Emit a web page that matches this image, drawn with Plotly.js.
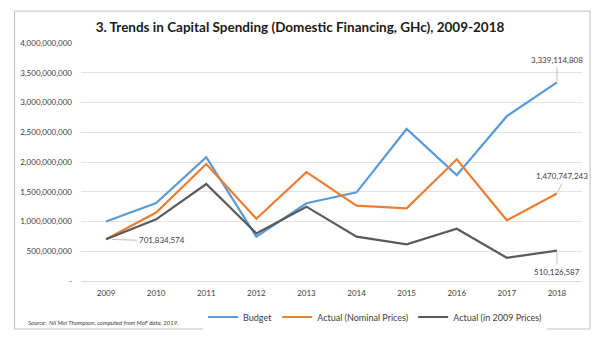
<!DOCTYPE html>
<html>
<head>
<meta charset="utf-8">
<script src="https://cdn.plot.ly/plotly-3.0.1.min.js"></script>
<style>
html,body{margin:0;padding:0;background:#fff;}
#chart{width:600px;height:337px;}
</style>
</head>
<body>
<div id="chart"></div>
<script>
const years = ['2009','2010','2011','2012','2013','2014','2015','2016','2017','2018'];
const budget = [1000000000, 1312000000, 2080000000, 745000000, 1306000000, 1490000000, 2555000000, 1780000000, 2770000000, 3339114808];
const actualNominal = [701834574, 1150000000, 1966000000, 1047000000, 1830000000, 1266000000, 1220000000, 2045000000, 1020000000, 1470747243];
const actualReal = [701834574, 1037000000, 1630000000, 800000000, 1249000000, 745000000, 617000000, 879000000, 390000000, 510126587];
const seriesNames = ['Budget', 'Actual (Nominal Prices)', 'Actual (in 2009 Prices)'];
const yTickVals = [0, 500000000, 1000000000, 1500000000, 2000000000, 2500000000, 3000000000, 3500000000, 4000000000];
const titleText = '3. Trends in Capital Spending (Domestic Financing, GHc), 2009-2018';
const sourceText = 'Source:  Nii Moi Thompson, computed from MoF data, 2019.';

const fmt = v => v === 0 ? '-' : v.toLocaleString('en-US');
const FONT = 'Lato, sans-serif';

const colors = ['#5b9bd5', '#ed7d31', '#5a5a5a'];
const data = [budget, actualNominal, actualReal].map((ys, i) => ({
  x: years, y: ys, type: 'scatter', mode: 'lines', name: seriesNames[i],
  line: {color: colors[i], width: 2.2}
}));

const last = years.length - 1;
const labelFont = {family: FONT, size: 8, color: '#404040'};
const leader = '#bfbfbf';
const annotations = [
  {x: 0, y: actualReal[0], text: fmt(actualReal[0]), showarrow: true, arrowhead: 0, arrowwidth: 1, arrowcolor: leader,
   ax: 31, ay: 1, xanchor: 'left', yanchor: 'middle', standoff: 6, font: labelFont},
  {x: last, y: budget[last], text: fmt(budget[last]), showarrow: true, arrowhead: 0, arrowwidth: 1, arrowcolor: leader,
   ax: 0, ay: -15, xanchor: 'center', yanchor: 'bottom', standoff: 1, font: labelFont},
  {x: last, y: actualNominal[last], text: fmt(actualNominal[last]), showarrow: true, arrowhead: 0, arrowwidth: 1, arrowcolor: leader,
   ax: 5, ay: -10, xanchor: 'center', yanchor: 'bottom', standoff: 1, font: labelFont},
  {x: last, y: actualReal[last], text: fmt(actualReal[last]), showarrow: true, arrowhead: 0, arrowwidth: 1, arrowcolor: leader,
   ax: 0, ay: 14, xanchor: 'center', yanchor: 'top', standoff: 1, font: labelFont},
  {xref: 'paper', yref: 'paper', x: -0.11, y: -0.176, xanchor: 'left', yanchor: 'middle', showarrow: false,
   text: '<i>' + sourceText + '</i>', font: {family: FONT, size: 6, color: '#404040'}}
];

const layout = {
  width: 600, height: 337,
  margin: {l: 81, r: 18, t: 43, b: 56},
  paper_bgcolor: '#fff', plot_bgcolor: '#fff',
  title: {text: '<b>' + titleText + '</b>', font: {family: FONT, size: 13.5, color: '#1a1a1a'},
          x: 0.5, xanchor: 'center', xref: 'container', y: 1 - 27/337, yanchor: 'middle', yref: 'container'},
  showlegend: true,
  legend: {orientation: 'h', x: 0.587, xanchor: 'center', yref: 'container', y: 1 - 317/337, yanchor: 'middle',
           font: {family: FONT, size: 9, color: '#404040'}},
  xaxis: {type: 'category', range: [-0.5, 9.5], showgrid: false, zeroline: false,
          showline: true, linecolor: '#d9d9d9', linewidth: 1, ticks: '', ticklabelstandoff: 4,
          tickfont: {family: FONT, size: 8, color: '#404040'}},
  yaxis: {range: [0, 4000000000], tickvals: yTickVals, ticktext: yTickVals.map(fmt),
          showgrid: true, gridcolor: '#e3e3e3', gridwidth: 1, zeroline: false, showline: false,
          ticks: '', ticklabelstandoff: 8,
          tickfont: {family: FONT, size: 8, color: '#404040'}},
  annotations: annotations,
  shapes: [{type: 'rect', xref: 'paper', yref: 'paper', x0: -0.1327, x1: 1.016, y0: -0.2017, y1: 1.134,
            line: {color: '#b8c2cc', width: 1}, layer: 'above'}]
};

Plotly.newPlot('chart', data, layout, {displayModeBar: false}).catch(e => {
  document.body.insertAdjacentHTML('beforeend', '<pre>' + e + '</pre>');
});
</script>
</body>
</html>
